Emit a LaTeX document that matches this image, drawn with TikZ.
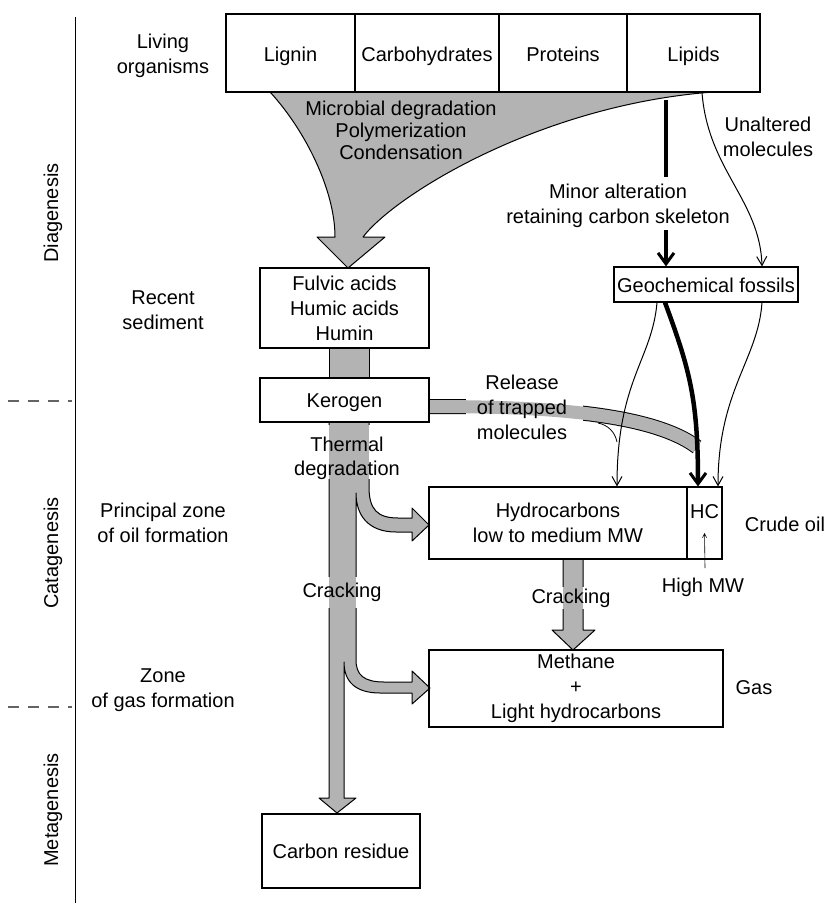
\documentclass[tikz,border=0pt]{standalone}
\usepackage{fontspec}
\setmainfont{Liberation Sans}
\usetikzlibrary{arrows.meta}
\definecolor{flowgray}{RGB}{179,179,179}
\definecolor{dashgray}{RGB}{100,100,100}
\tikzset{
 txt/.style={font=\fontsize{20}{25}\selectfont, align=center, inner sep=0pt},
 box/.style={txt, draw, line width=1.1pt},
 cell/.style={box, text height=20pt, text depth=4.2pt},
 topcell/.style={box, text height=22pt, text depth=4.2pt, minimum height=78pt},
 flow/.style={fill=flowgray, draw=black, line width=1pt, line join=round},
 thinarr/.style={line width=1pt, -{Straight Barb[length=9pt,width=10pt]}},
 thickarr/.style={line width=4.5pt, -{Straight Barb[length=11pt,width=16pt,line width=3pt]}},
}
\begin{document}
\begin{tikzpicture}[x=1pt,y=-1pt]
\useasboundingbox (0,0) rectangle (830,904);

% ---- gray flows (shapes) ----
\path[flow] (270,92) -- (713,92) .. controls (540,105) and (395,195) .. (363,237)
  -- (385,237) -- (348,268) -- (317,237) -- (335,237)
  .. controls (335,190) and (305,130) .. (270,92) -- cycle;

\path[flow] (329,348) rectangle (369,378);

\path[flow] (329,422) -- (369,422) -- (369,487)
  .. controls (369,510) and (378,518) .. (398,518) -- (412,518) -- (412,508)
  -- (429,525) -- (412,541) -- (412,532) -- (396,532)
  .. controls (368,532) and (356,515) .. (356,493) -- (356,660)
  .. controls (356,675) and (364,682) .. (384,682) -- (412,682) -- (412,671)
  -- (430,688) -- (412,704) -- (412,693) -- (380,693)
  .. controls (356,693) and (344,682) .. (344,662) -- (344,798)
  -- (356,798) -- (337,813) -- (319,798) -- (329,798) -- cycle;

\path[flow] (563,559) -- (583,559) -- (583,630) -- (595,630) -- (573,650)
  -- (552,630) -- (563,630) -- cycle;

\draw[black, line width=15pt] (429,406.5) .. controls (540,406.5) and (650,412) .. (697,447);
\draw[flowgray, line width=13pt] (429,406.5) .. controls (540,406.5) and (650,412) .. (697,447);

% gaps in outlines behind text
\begin{scope}
\clip (466,394) rectangle (583,424);
\fill[white] (466,394) rectangle (583,424);
\draw[flowgray, line width=13pt] (429,406.5) .. controls (540,406.5) and (650,412) .. (697,447);
\end{scope}
\fill[white] (327.5,425) rectangle (370.5,479);
\fill[flowgray] (329,425) rectangle (369,479);
\fill[white] (327.5,577) rectangle (357.5,608);
\fill[flowgray] (329,577) rectangle (356,608);
\fill[white] (561.5,587) rectangle (584.5,609);
\fill[flowgray] (563,587) rectangle (583,609);

% ---- boxes ----
\node[topcell, minimum width=129pt] (lignin) at (290.5,53) {Lignin};
\node[topcell, minimum width=144pt] (carb) at (427,53) {Carbohydrates};
\node[topcell, minimum width=128pt] (prot) at (563,53) {Proteins};
\node[topcell, minimum width=133pt] (lipids) at (693.5,53) {Lipids};
\node[box, minimum width=169pt, minimum height=80pt] (fulvic) at (344.5,308) {Fulvic acids\\Humic acids\\Humin};
\node[cell, minimum width=169pt, minimum height=44pt] (kerogen) at (344.5,400) {Kerogen};
\node[cell, minimum width=184pt, minimum height=35pt] (geo) at (706,284.5) {Geochemical fossils};
\node[box, minimum width=258pt, minimum height=72pt] (hyd) at (558,523) {Hydrocarbons\\low to medium MW};
\node[box, minimum width=35pt, minimum height=72pt] (hc) at (704.5,523) {};
\node[txt] (hclbl) at (704.5,512) {HC};
\node[box, minimum width=294pt, minimum height=77pt] (meth) at (576,688.5) {Methane\\+\\Light hydrocarbons};
\node[cell, minimum width=158pt, minimum height=74pt] (carbon) at (341,851) {Carbon residue};

% ---- left axis ----
\coordinate (axtop) at (75,17);
\coordinate (axbot) at (75,903);
\draw[line width=1pt] (axtop) -- (axbot);
\coordinate (d1a) at (8,401); \coordinate (d1b) at (72,401);
\coordinate (d2a) at (8,707); \coordinate (d2b) at (72,707);
\draw[dashgray, line width=1.2pt, dash pattern=on 11pt off 9pt] (d1a) -- (d1b);
\draw[dashgray, line width=1.2pt, dash pattern=on 11pt off 9pt] (d2a) -- (d2b);

% ---- labels ----
\node[txt] (living) at (163,55.5) {Living\\organisms};
\node[txt] (recent) at (163,310.5) {Recent\\sediment};
\node[txt] (principal) at (163,522.5) {Principal zone\\of oil formation};
\node[txt] (zone) at (163,690) {Zone\\of gas formation};
\node[txt, rotate=90] (dia) at (53,213) {Diagenesis};
\node[txt, rotate=90] (cata) at (53,553) {Catagenesis};
\node[txt, rotate=90] (meta) at (53,810) {Metagenesis};
\node[txt, font=\fontsize{20}{22}\selectfont] (micro) at (401,130) {Microbial degradation\\Polymerization\\Condensation};
\node[txt] (minor) at (618,205.5) {Minor alteration\\retaining carbon skeleton};
\node[txt] (unalt) at (768,136.5) {Unaltered\\molecules};
\node[txt] (release) at (522,407.5) {Release\\of trapped\\molecules};
\node[txt, font=\fontsize{20}{24}\selectfont] (thermal) at (347,458) {Thermal\\degradation};
\node[txt] (crack1) at (342,592) {Cracking};
\node[txt] (crack2) at (571,598) {Cracking};
\node[txt] (crude) at (785,524) {Crude oil};
\node[txt] (highmw) at (703,587) {High MW};
\node[txt] (gas) at (754,688) {Gas};

% ---- connectors ----
\coordinate (m1) at (666,100);
\coordinate (m2) at (666,177);
\coordinate (m3) at (666,230);
\draw[line width=4.5pt] (m1) -- (m2);
\draw[thickarr] (m3) -- (geo.north -| m3);
\draw[thinarr] (lipids.south -| 702,0) .. controls (708,170) and (760,200) .. (geo.north -| 762,0);
\draw[thinarr] (geo.south -| 657,0) .. controls (652,360) and (617,380) .. (hyd.north -| 617,0);
\draw[thickarr] (geo.south -| 665,0) .. controls (690,370) and (698,400) .. (hc.north -| 698,0);
\draw[thinarr] (geo.south -| 762,0) .. controls (758,360) and (718,390) .. (hc.north -| 718,0);
\coordinate (bj) at (598,423);
\draw[line width=0.8pt] (bj) .. controls (608,425) and (615,432) .. (617,442);
\coordinate (hm) at (705,568);
\draw[line width=0.6pt, -{Straight Barb[length=4pt,width=4pt]}] (hm) -- (hc.center |- 0,533);
\end{tikzpicture}
\end{document}
